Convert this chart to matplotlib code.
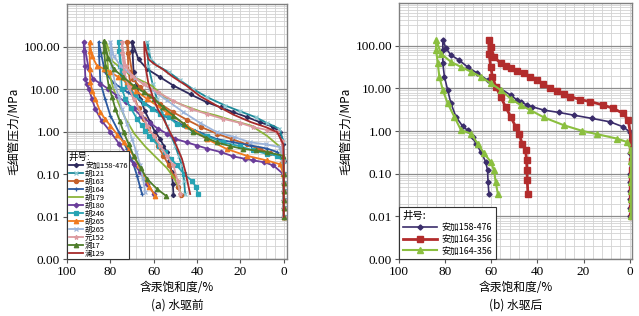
import matplotlib
matplotlib.use("Agg")
import matplotlib.pyplot as plt
from matplotlib.ticker import FixedLocator, MultipleLocator, LogLocator, NullFormatter

plt.rcParams['font.family'] = ['Noto Sans CJK SC', 'DejaVu Sans']

# ---- (a) 水驱前 : 进汞 + 退汞 (含汞饱和度 %, 毛细管压力 MPa) ----
wells_a = ['安加158-476', '胡121', '胡163', '胡164', '胡179', '胡180',
           '胡246', '胡265', '胡265', '元152', '涧17', '澜129']

aj158_s = [0, 0, 0, 0, 0, 0, 0, 0.3, 1.7, 5, 10.9, 17, 23.2, 29, 35.5, 43, 50.9, 57, 63.1, 67, 70,
           69.8, 69.3, 67.8, 66.2, 64, 61.6, 59.5, 57, 55.5, 54, 52.8, 51.7, 51.2, 50.9]
aj158_p = [0.01, 0.016, 0.025, 0.04, 0.063, 0.1, 0.2, 0.5, 0.97, 1.3, 1.66, 2.2, 2.86, 3.7, 4.9, 7.5, 12.1, 19, 29.8, 50, 130,
           80, 25, 11, 5.9, 3.0, 1.66, 1.0, 0.67, 0.47, 0.33, 0.2, 0.11, 0.06, 0.033]

hu121_s = [0, 0, 0, 0, 0, 0, 0, 0.2, 2, 7.8, 13, 20.1, 27, 35.5, 42, 47.8, 53, 58.5, 61.5, 63,
           62.8, 62.5, 60.5, 58.5, 56, 54, 52, 50.1, 48.5, 47, 46, 45.5]
hu121_p = [0.01, 0.016, 0.025, 0.04, 0.063, 0.1, 0.2, 0.6, 1.16, 1.6, 2.18, 3.0, 4.1, 6.5, 10.1, 16, 25, 36, 51, 130,
           80, 35, 13, 5.9, 2.7, 1.38, 0.8, 0.47, 0.27, 0.16, 0.07, 0.034]

hu163_s = [0, 0, 0, 0, 0, 0, 0.2, 2, 6.3, 11, 17.1, 24, 30.9, 38, 44.7, 51, 57, 62, 66.2, 69.5, 72.3,
           72, 71.6, 70.5, 69.3, 67, 64.7, 62.5, 60.1, 58, 55.5, 53, 50.9, 48.8, 47.3]
hu163_p = [0.01, 0.016, 0.025, 0.04, 0.063, 0.1, 0.2, 0.27, 0.31, 0.39, 0.5, 0.67, 0.9, 1.27, 1.9, 2.86, 4.5, 7, 11, 17.4, 130,
           70, 25, 12, 7, 3.5, 1.99, 1.2, 0.81, 0.45, 0.27, 0.16, 0.092, 0.05, 0.032]

hu164_s = [0, 0, 0, 0, 0, 0, 0.2, 3, 7.8, 15, 23.2, 31, 38.6, 46, 54, 60, 66.2, 72, 78.5, 82.5, 85.4,
           85.2, 84.6, 82.5, 80, 76, 72.4, 69.8, 67.7, 66.3, 65.4]
hu164_p = [0.01, 0.016, 0.025, 0.04, 0.063, 0.1, 0.2, 0.33, 0.4, 0.47, 0.56, 0.67, 0.95, 1.38, 2.2, 3.4, 5.5, 8.4, 14, 25, 130,
           60, 14.5, 6, 2.38, 0.95, 0.39, 0.2, 0.092, 0.05, 0.034]

hu179_s = [0, 0, 0, 0, 0, 0, 0.2, 2, 7.8, 15, 23.2, 31, 38.6, 46, 54, 61, 68, 74, 79, 82,
           81.8, 81, 79, 76.5, 73, 69, 64, 59, 54, 50.5, 48.5, 47.5]
hu179_p = [0.01, 0.016, 0.025, 0.04, 0.063, 0.1, 0.2, 0.45, 0.8, 1.38, 1.8, 2.38, 3.0, 4.1, 6.0, 12.1, 18, 28, 45, 130,
           70, 30, 12, 5, 2, 0.9, 0.45, 0.25, 0.14, 0.08, 0.05, 0.034]

hu180_s = [0, 0, 0, 0, 0, 0.2, 4.8, 9, 14, 18, 23.2, 29, 35.5, 40, 44.7, 50, 54, 58, 61.6, 66, 69.3, 73, 77, 81, 84.6, 88, 90, 92.3,
           92.2, 91.8, 91.5, 90.8, 90, 88.5, 87, 84, 80, 76, 72.3, 69, 66.2, 63, 59.8]
hu180_p = [0.01, 0.016, 0.025, 0.04, 0.063, 0.1, 0.16, 0.19, 0.21, 0.23, 0.26, 0.33, 0.4, 0.47, 0.56, 0.67, 0.9, 1.16, 1.6, 2.38, 3.5, 4.9, 7, 10.1, 13.5, 17.4, 30, 130,
           80, 35, 17.3, 13, 10.1, 6, 3.4, 1.8, 0.99, 0.52, 0.27, 0.17, 0.11, 0.06, 0.034]

hu246_s = [0, 0, 0, 0, 0, 0, 0.2, 3, 7.8, 14, 20.1, 28, 35.5, 42, 49.3, 53, 57, 61, 64.7, 68.5, 72.4, 74.5, 76.2,
           76, 75.4, 74.7, 73.1, 70.5, 67.7, 65.5, 63.9, 62.2, 60.8, 57.8, 54.7, 52, 49.3, 46, 42.4, 40.5, 39.6]
hu246_p = [0.01, 0.016, 0.025, 0.04, 0.063, 0.1, 0.2, 0.27, 0.3, 0.36, 0.45, 0.56, 0.78, 1.06, 1.5, 2.18, 2.6, 3.4, 4.8, 7.0, 12, 20.8, 130,
           80, 35.7, 10.1, 5.9, 3.5, 1.99, 1.4, 1.06, 0.8, 0.67, 0.47, 0.33, 0.23, 0.16, 0.1, 0.07, 0.05, 0.034]

hu265_s = [0, 0, 0, 0, 0, 0.2, 1.7, 7.8, 17.1, 26.3, 35.5, 44.7, 54, 63.1, 68, 72.4, 76.5, 80, 83, 86.2, 88.5, 89.6,
           89.6, 89.4, 89.3, 88.3, 87, 84.6, 82.5, 80, 76.8, 73.9, 71.5, 69.3, 67, 64.7, 62, 59.3]
hu265_p = [0.01, 0.016, 0.025, 0.04, 0.063, 0.1, 0.17, 0.21, 0.27, 0.39, 0.67, 1.38, 2.86, 5.9, 9, 14.5, 19.5, 25, 30, 35.7, 60, 127,
           80, 30, 14.5, 9, 5.9, 2.86, 2.0, 1.38, 0.85, 0.56, 0.39, 0.27, 0.16, 0.092, 0.05, 0.031]

hu265b_s = [0, 0, 0, 0, 0, 0, 0.2, 1.7, 8, 15.5, 23, 30.9, 38.6, 46.3, 54, 61.6, 68.5, 75.4, 78.5, 80,
            79.8, 79.3, 77.7, 76.2, 74.7, 72.3, 70, 68, 66.2, 65, 63.9]
hu265b_p = [0.01, 0.016, 0.025, 0.04, 0.063, 0.1, 0.2, 0.43, 0.5, 0.56, 0.75, 0.97, 1.6, 2.86, 5.5, 10.1, 18, 35.7, 60, 130,
            70, 35.7, 12.1, 6.5, 3.4, 1.5, 0.67, 0.33, 0.16, 0.08, 0.037]

y152_s = [0, 0, 0, 0, 0, 0, 0.2, 0.9, 3, 7.8, 14, 20.1, 28, 35.5, 43, 50.9, 58, 64.7, 70, 73, 74.7,
          74.5, 73.6, 71.5, 69.3, 66, 63.1, 60, 57, 54, 50.9, 49, 47.8]
y152_p = [0.01, 0.016, 0.025, 0.04, 0.063, 0.1, 0.2, 0.6, 0.97, 1.1, 1.27, 1.6, 2.0, 2.6, 3.4, 5.3, 8.4, 13, 20.8, 35, 130,
          70, 25, 11, 5.9, 2.8, 1.38, 0.8, 0.47, 0.27, 0.16, 0.07, 0.034]

j17_s = [0, 0, 0, 0, 0, 0, 0.2, 7.8, 13, 18.6, 25, 30.9, 36, 41.7, 46, 50.9, 55.5, 60.1, 64.7, 69.3, 74, 78.5, 81, 83.1,
         82.9, 82.3, 80.8, 79.2, 77.7, 75.7, 73.9, 71.5, 69.3, 66, 63.1, 58.5, 54.4]
j17_p = [0.01, 0.016, 0.025, 0.04, 0.063, 0.1, 0.27, 0.33, 0.36, 0.39, 0.46, 0.56, 0.72, 0.97, 1.5, 2.38, 3.7, 5.9, 8.5, 12.1, 19, 29.8, 55, 138,
         80, 35.7, 12.1, 6.5, 3.4, 1.8, 0.97, 0.5, 0.27, 0.14, 0.077, 0.045, 0.031]

l129_s = [0, 0, 0, 0, 0, 0, 0.2, 3, 7.8, 15, 23.2, 31, 38.6, 45, 50.9, 56, 60.1, 62.5, 64.4,
          64.3, 63.9, 62.5, 60.1, 58, 55.5, 53, 50.9, 49, 47, 45.5, 44.7, 43.2]
l129_p = [0.01, 0.016, 0.025, 0.04, 0.063, 0.1, 0.5, 0.97, 1.25, 1.66, 2.5, 4.1, 6.8, 12.1, 19, 29.8, 40, 51, 130,
          70, 35.7, 14, 5.9, 3.3, 1.99, 1.1, 0.67, 0.4, 0.23, 0.12, 0.077, 0.034]

# ---- (b) 水驱后 ----
wells_b = ['安加158-476', '安加164-356', '安加164-356']

b1_s = [-0.3, -0.3, -0.3, -0.3, -0.3, -0.3, -0.3, 0, 2.8, 8.5, 16.4, 24.3, 30.8, 37.2, 42.2, 44.4, 47.3,
        48.7, 51.6, 57.3, 61.6, 66, 70.3, 73.9, 77.5, 79.6, 81,
        81, 81, 80.3, 78.9, 77.5, 75.3, 72.4, 70.3, 68.1, 66.7, 64.5, 62.4, 61.6, 61.4, 61]
b1_p = [0.01, 0.016, 0.025, 0.04, 0.063, 0.1, 0.3, 0.96, 1.26, 1.65, 1.99, 2.37, 2.75, 3.11, 3.72, 4.08, 4.87,
        5.3, 7, 11, 15.7, 22.7, 32, 46, 61, 87, 137,
        79, 38.8, 18.8, 9.2, 4.5, 2.17, 1.3, 1.05, 0.73, 0.51, 0.33, 0.19, 0.12, 0.065, 0.033]

b2_s = [-0.8, -0.8, -0.8, -0.8, -0.8, -0.8, -0.8, -0.8, -0.8, -0.8,
        0.6, 2.8, 7.1, 11.4, 17.1, 21.4, 25.7, 28.5, 31.5, 34.5, 37.4, 40, 43, 46, 48.7, 51.6, 53.5, 55.9, 58.8, 60.2, 61,
        61, 60.2, 59.5, 58, 55.9, 53.8, 51.6, 49.4, 48, 46.6, 45.1, 44.7, 44.5, 44.4, 44.1]
b2_p = [0.01, 0.016, 0.024, 0.035, 0.05, 0.07, 0.12, 0.2, 0.35, 0.6,
        1.8, 2.6, 3.4, 4.1, 4.9, 5.5, 6.4, 7.5, 8.6, 10.5, 12.5, 16, 19, 22.5, 26, 30, 33, 38.7, 55, 95, 140,
        66, 32, 18.8, 11, 6.4, 3.7, 2.2, 1.26, 0.88, 0.51, 0.36, 0.21, 0.12, 0.07, 0.034]

b3_s = [-0.6, -0.6, -0.6, -0.6, -0.6, -0.6, -0.6, -0.6, 1.3, 5.6, 14.2, 20.7, 28.6, 37.2, 43, 47.3, 51.6,
        55.9, 60.2, 64.5, 68.8, 73.1, 77.5, 81.8, 83.9,
        83.9, 83.2, 82.5, 81, 78.9, 76, 73.1, 68.8, 65.9, 63.1, 60.2, 58.8, 58.1, 57.1]
b3_p = [0.01, 0.016, 0.025, 0.04, 0.063, 0.1, 0.2, 0.36, 0.56, 0.67, 0.85, 1.02, 1.38, 2.1, 3.1, 4.08, 5.8,
        9.2, 13.2, 18.8, 24.7, 32, 42, 66, 140,
        79, 38.8, 18.8, 9.2, 4.5, 2.17, 1.05, 0.88, 0.51, 0.3, 0.19, 0.12, 0.065, 0.033]


def style_axes(ax, xmin_right):
    ax.set_yscale('log')
    ax.set_ylim(0.001, 1000)
    ax.set_xlim(100, xmin_right)
    ax.yaxis.set_major_locator(FixedLocator([0.001, 0.01, 0.1, 1, 10, 100]))
    ax.set_yticklabels(['0.00', '0.01', '0.10', '1.00', '10.00', '100.00'],
                       family='Liberation Serif', fontsize=9.5)
    ax.yaxis.set_minor_locator(LogLocator(base=10, subs=range(2, 10), numticks=20))
    ax.yaxis.set_minor_formatter(NullFormatter())
    ax.xaxis.set_major_locator(FixedLocator([100, 80, 60, 40, 20, 0]))
    ax.set_xticklabels(['100', '80', '60', '40', '20', '0'], family='Liberation Serif', fontsize=9.5)
    ax.xaxis.set_minor_locator(MultipleLocator(4))
    ax.grid(True, which='minor', axis='both', color='#d2d2d2', lw=0.6)
    ax.grid(True, which='major', axis='x', color='#d2d2d2', lw=0.6)
    ax.grid(True, which='major', axis='y', color='#8c8c8c', lw=0.9)
    ax.tick_params(which='minor', length=0)
    ax.tick_params(which='major', length=3, width=0.8, color='#555555', pad=2)
    ax.set_axisbelow(True)
    for sp in ax.spines.values():
        sp.set_color('#808080')
        sp.set_linewidth(1.0)
    ax.set_ylabel('毛细管压力/MPa', fontsize=8.5, labelpad=2)
    ax.set_xlabel('含汞饱和度/%', fontsize=8.5, labelpad=2)


fig = plt.figure(figsize=(6.39, 3.16), dpi=100)
ax1 = fig.add_axes([0.1049, 0.180, 0.3443, 0.807])
ax2 = fig.add_axes([0.6244, 0.180, 0.3646, 0.810])

series_a = [
    (aj158_s, aj158_p, '#2e2a5c', 'D', 2.2, None),
    (hu121_s, hu121_p, '#1f8b9b', 'x', 3.0, '#8cc8d2'),
    (hu163_s, hu163_p, '#c5612b', 'o', 3.0, None),
    (hu164_s, hu164_p, '#2c5aa0', '+', 3.5, None),
    (hu179_s, hu179_p, '#8cb43a', None, 0, None),
    (hu180_s, hu180_p, '#6a3d9a', 'D', 2.4, None),
    (hu246_s, hu246_p, '#27a3b3', 's', 3.5, None),
    (hu265_s, hu265_p, '#f07a1e', '^', 3.2, None),
    (hu265b_s, hu265b_p, '#9cb4da', 'x', 3.0, None),
    (y152_s, y152_p, '#dc9aa0', '*', 3.2, None),
    (j17_s, j17_p, '#4e7d2a', '^', 3.2, None),
    (l129_s, l129_p, '#a52a2a', None, 0, None),
]
for (s, p, c, m, ms, mc), name in zip(series_a, wells_a):
    ax1.plot(s, p, color=c, lw=1.3, marker=m, ms=ms, mew=0.9,
             mec=mc if mc else c, mfc=mc if mc else c, label=name)

series_b = [
    (b1_s, b1_p, '#3b2d6b', 'D', 2.6, 1.2),
    (b2_s, b2_p, '#b22c2c', 's', 4.8, 2.0),
    (b3_s, b3_p, '#8bbf3f', '^', 4.6, 1.5),
]
for (s, p, c, m, ms, lw), name in zip(series_b, wells_b):
    ax2.plot(s, p, color=c, lw=lw, marker=m, ms=ms, mec=c, mfc=c, label=name)

style_axes(ax1, -1.5)
style_axes(ax2, -1.0)

leg1 = ax1.legend(loc='lower left', borderaxespad=0, fontsize=5.4, title='井号:',
                  title_fontsize=6.8, alignment='left', handlelength=1.9, handletextpad=0.3,
                  labelspacing=0.0, borderpad=0.2, fancybox=False, framealpha=1,
                  edgecolor='#333333')
leg1.get_frame().set_linewidth(0.8)

leg2 = ax2.legend(loc='lower left', borderaxespad=0, fontsize=6.4, title='井号:',
                  title_fontsize=7.5, alignment='left', handlelength=3.9, handletextpad=0.5,
                  labelspacing=0.3, borderpad=0.4, fancybox=False, framealpha=1,
                  edgecolor='#333333')
leg2.get_frame().set_linewidth(0.8)

fig.text(0.1049 + 0.3443 / 2, 0.035, '(a) 水驱前', ha='center', va='center', fontsize=8.5)
fig.text(0.6244 + 0.3646 / 2, 0.035, '(b) 水驱后', ha='center', va='center', fontsize=8.5)

fig.savefig('out.png', dpi=100, facecolor='white')
